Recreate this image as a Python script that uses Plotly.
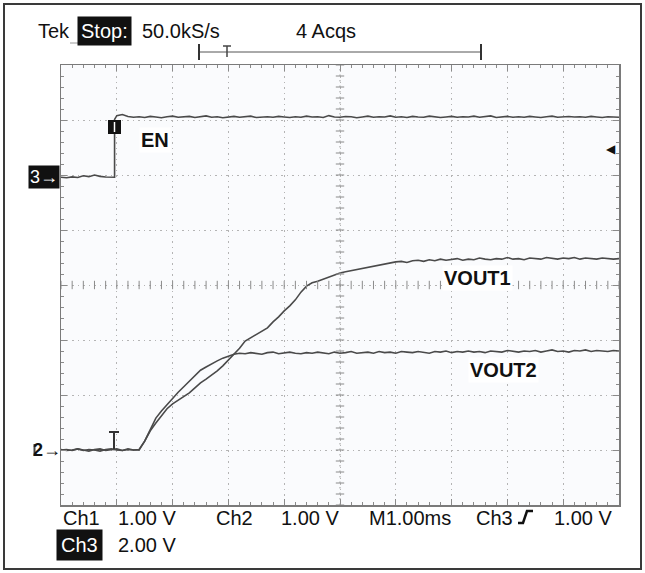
import plotly.graph_objects as go

# ---------------- data ----------------
# sampling grid for Ch1/Ch2, ms from left edge of screen (1 ms/div)
time_ms = [round(i * 0.1, 1) for i in range(101)]

vout1_v = [0.00, 0.01, -0.01, 0.02, 0.00, -0.02, 0.01, 0.02, -0.01, 0.00, 0.02, -0.01, 0.01, 0.00, 0.01,
           0.16, 0.35, 0.49, 0.62, 0.75, 0.84, 0.91, 0.97, 1.04, 1.13, 1.22, 1.29, 1.36, 1.44, 1.53,
           1.64, 1.73, 1.85, 1.98, 2.04, 2.09, 2.15, 2.22, 2.33, 2.42, 2.53, 2.62, 2.73, 2.87, 2.98,
           3.04, 3.07, 3.11, 3.15, 3.18, 3.22, 3.24, 3.26, 3.29, 3.31, 3.33, 3.35, 3.37, 3.39, 3.40, 3.42,
           3.43, 3.41, 3.44, 3.45, 3.43, 3.46, 3.44, 3.47, 3.45, 3.46,
           3.48, 3.45, 3.47, 3.46, 3.49, 3.47, 3.46, 3.48, 3.47, 3.50,
           3.47, 3.48, 3.46, 3.49, 3.48, 3.47, 3.50, 3.48, 3.47, 3.49,
           3.48, 3.50, 3.47, 3.49, 3.48, 3.47, 3.49, 3.48, 3.47, 3.48]

vout2_v = [0.01, -0.01, 0.00, 0.02, -0.01, 0.01, 0.00, -0.02, 0.01, 0.02, 0.00, -0.01, 0.02, 0.00, 0.00,
           0.16, 0.37, 0.58, 0.71, 0.83, 0.93, 1.05, 1.15, 1.25, 1.36, 1.45, 1.51, 1.57, 1.62, 1.67,
           1.71, 1.74, 1.76,
           1.75, 1.77, 1.76, 1.74, 1.77, 1.78, 1.75, 1.76, 1.78, 1.76,
           1.75, 1.77, 1.76, 1.78, 1.77, 1.75, 1.78, 1.76, 1.77, 1.79,
           1.76, 1.77, 1.78, 1.76, 1.79, 1.77, 1.78, 1.76, 1.79, 1.78,
           1.77, 1.79, 1.78, 1.76, 1.79, 1.78, 1.80, 1.77, 1.79, 1.78,
           1.80, 1.78, 1.79, 1.77, 1.80, 1.79, 1.78, 1.81, 1.79, 1.78,
           1.80, 1.79, 1.81, 1.78, 1.80, 1.82, 1.79, 1.80, 1.78, 1.81,
           1.80, 1.82, 1.79, 1.81, 1.80, 1.79, 1.81, 1.80]

en_time_ms = [0.0, 0.1, 0.2, 0.3, 0.4, 0.5, 0.6, 0.7, 0.8, 0.9, 0.96, 0.96] + \
             [round(1.0 + i * 0.1, 1) for i in range(91)]
en_v = [0.00, -0.02, 0.01, -0.01, 0.05, 0.02, 0.08, 0.03, 0.01, -0.01, 0.00,
        2.10, 2.24, 2.28, 2.21,
        2.18, 2.20, 2.17, 2.21, 2.19, 2.16, 2.20, 2.22, 2.18, 2.19,
        2.21, 2.17, 2.19, 2.23, 2.18, 2.20, 2.16, 2.19, 2.21, 2.18,
        2.20, 2.22, 2.17, 2.19, 2.20, 2.18, 2.21, 2.19, 2.17, 2.20,
        2.18, 2.22, 2.19, 2.20, 2.17, 2.24, 2.19, 2.18, 2.21, 2.20,
        2.16, 2.19, 2.22, 2.18, 2.20, 2.19, 2.23, 2.18, 2.20, 2.17,
        2.21, 2.19, 2.18, 2.22, 2.20, 2.17, 2.19, 2.21, 2.18, 2.20,
        2.19, 2.22, 2.18, 2.20, 2.23, 2.17, 2.19, 2.21, 2.18, 2.20,
        2.18, 2.21, 2.19, 2.17, 2.20, 2.22, 2.18, 2.19, 2.21, 2.19,
        2.20, 2.18, 2.21, 2.19, 2.17, 2.20, 2.19, 2.18]

# channel settings (volts per division, ground position in divisions from centre)
ch12_volts_per_div = 1.0
ch12_ground_div = -3.0
ch3_volts_per_div = 2.0
ch3_ground_div = 1.96

labels_top = ["Tek", "Stop:", "50.0kS/s", "4 Acqs"]
labels_bottom = ["Ch1", "1.00 V", "Ch2", "1.00 V", "M1.00ms", "Ch3", "1.00 V", "Ch3", "2.00 V"]

# ---------------- layout helpers ----------------
W, H = 645, 573
ML, MR, MT, MB = 61, 26, 65, 68
PW, PH = W - ML - MR, H - MT - MB


def px(x):
    return (x - ML) / PW


def py(y):
    return (H - MB - y) / PH


trace_color = "#4a4a4a"
fig = go.Figure()

fig.add_trace(go.Scatter(
    x=time_ms, y=[ch12_ground_div + v / ch12_volts_per_div for v in vout1_v],
    mode="lines", line=dict(color=trace_color, width=1.6), name="VOUT1", hoverinfo="skip"))
fig.add_trace(go.Scatter(
    x=time_ms, y=[ch12_ground_div + v / ch12_volts_per_div for v in vout2_v],
    mode="lines", line=dict(color=trace_color, width=1.6), name="VOUT2", hoverinfo="skip"))
fig.add_trace(go.Scatter(
    x=en_time_ms, y=[ch3_ground_div + v / ch3_volts_per_div for v in en_v],
    mode="lines", line=dict(color=trace_color, width=1.6), name="EN", hoverinfo="skip"))

# centre cross-hair minor ticks
xt = [round(i * 0.2, 1) for i in range(51)]
yt = [round(-4 + i * 0.2, 1) for i in range(41)]
fig.add_trace(go.Scatter(x=xt, y=[0] * len(xt), mode="markers", hoverinfo="skip",
                         marker=dict(symbol="line-ns", size=6, line=dict(color="#8a8a8a", width=1))))
fig.add_trace(go.Scatter(x=[5] * len(yt), y=yt, mode="markers", hoverinfo="skip",
                         marker=dict(symbol="line-ew", size=6, line=dict(color="#8a8a8a", width=1))))

axis_common = dict(showgrid=True, gridcolor="#b4b4b4", griddash="1.5px,4px", gridwidth=1,
                   zeroline=False, showticklabels=False, showline=True, linecolor="#7a7a7a",
                   linewidth=1.5, mirror="allticks", ticks="inside", ticklen=6, tickcolor="#8a8a8a",
                   fixedrange=True)
fig.update_xaxes(range=[0, 10], dtick=1, tick0=0,
                 minor=dict(dtick=0.2, ticks="inside", ticklen=3, tickcolor="#8a8a8a", showgrid=False),
                 **axis_common)
fig.update_yaxes(range=[-4, 4], dtick=1, tick0=0,
                 minor=dict(dtick=0.2, ticks="inside", ticklen=3, tickcolor="#8a8a8a", showgrid=False),
                 **axis_common)

shapes = []


def seg(x0, y0, x1, y1, color="#333", width=1.5):
    shapes.append(dict(type="line", xref="paper", yref="paper", x0=px(x0), x1=px(x1), y0=py(y0), y1=py(y1),
                       line=dict(color=color, width=width)))


# outer border
shapes.append(dict(type="rect", xref="paper", yref="paper", x0=px(4), x1=px(641), y0=py(4), y1=py(569),
                   line=dict(color="#3a3a3a", width=2)))
# centre vertical line
shapes.append(dict(type="line", xref="paper", yref="paper", x0=0.5, x1=0.5, y0=0, y1=1,
                   line=dict(color="#9a9a9a", width=1, dash="1.5px,4px")))
# underline below Stop box
seg(70, 43, 120, 43, color="#9a9a9a", width=1)
# top bracket
seg(199, 52, 481, 52, color="#555", width=1)
seg(199, 44, 199, 60, width=2)
seg(481, 44, 481, 60, width=2)
seg(227, 46, 227, 57, color="#444")
seg(223, 46, 231, 46, color="#444")
# EN trigger marker (black block)
shapes.append(dict(type="rect", xref="paper", yref="paper", x0=px(108), x1=px(121), y0=py(120), y1=py(134),
                   fillcolor="#111", line=dict(width=0)))
seg(114.5, 122, 114.5, 132, color="white", width=1.5)
# I-beam marker on Ch1/Ch2 ground
seg(114, 432, 114, 449, width=2)
seg(109, 432, 119, 432, width=2)
# hidden Ch1 ground marker stroke behind the "2"
seg(34.5, 444, 34.5, 456, color="#444", width=2)
# trigger slope symbol in readout
shapes.append(dict(type="path", xref="paper", yref="paper",
                   path=f"M {px(518)},{py(523)} L {px(523)},{py(523)} L {px(527)},{py(511)} L {px(533)},{py(511)}",
                   line=dict(color="#111", width=2.5)))
fig.update_layout(shapes=shapes)

FONT = "Liberation Sans, Arial, Helvetica, sans-serif"
ann = []


def text(s, x, y, size=20, color="#111", bg=None, xanchor="left", bold=False, pad=1, family=FONT):
    d = dict(text=(f"<b>{s}</b>" if bold else s), x=px(x), y=py(y), xref="paper", yref="paper",
             showarrow=False, xanchor=xanchor, yanchor="middle",
             font=dict(family=family, size=size, color=color), borderpad=pad)
    if bg:
        d["bgcolor"] = bg
    ann.append(d)


# top readout
text(labels_top[0], 36, 31)
text(labels_top[1], 77, 31, color="white", bg="#111", pad=3)
text(labels_top[2], 140, 31)
text(labels_top[3], 294, 31)
# bottom readout
text(labels_bottom[0], 61, 518)
text(labels_bottom[1], 116, 518)
text(labels_bottom[2], 214, 518)
text(labels_bottom[3], 279, 518)
text(labels_bottom[4], 367, 518)
text(labels_bottom[5], 474, 518)
text(labels_bottom[6], 552, 518)
text(labels_bottom[7], 56, 545, color="white", bg="#111", pad=4)
text(labels_bottom[8], 116, 545)
# channel markers
text("3→", 28, 177, size=18, color="white", bg="#111")
text("<b>2</b>→", 31, 450, size=18)
text("◀", 611, 149, size=12, family="DejaVu Sans", xanchor="center")
# trace labels
text("EN", 155, 140, bold=True, bg="white", xanchor="center")
text("VOUT1", 477, 278, bold=True, bg="white", xanchor="center")
text("VOUT2", 503, 370, bold=True, bg="white", xanchor="center")
fig.update_layout(annotations=ann)

fig.update_layout(width=W, height=H, margin=dict(l=ML, r=MR, t=MT, b=MB, pad=0),
                  paper_bgcolor="white", plot_bgcolor="#fafbfd", showlegend=False,
                  hovermode=False)

fig.write_html("out.html", config={"displayModeBar": False, "staticPlot": True},
               post_script="document.body.style.margin='0';document.body.style.overflow='hidden';")
